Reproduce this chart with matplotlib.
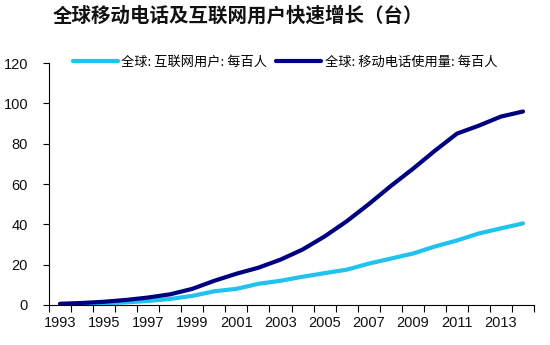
import matplotlib
matplotlib.use("Agg")
import matplotlib.pyplot as plt
import numpy as np

years = list(range(1993, 2015))
internet = [0.3, 0.4, 0.8, 1.3, 2.0, 3.0, 4.5, 6.8, 8.0, 10.5, 12.0, 14.0,
            15.8, 17.5, 20.5, 23.0, 25.5, 29.0, 32.0, 35.5, 38.0, 40.5]
mobile = [0.6, 1.0, 1.6, 2.5, 3.7, 5.3, 8.0, 12.0, 15.5, 18.5, 22.5, 27.5,
          34.0, 41.5, 50.0, 59.0, 67.5, 76.5, 85.0, 89.0, 93.5, 96.0]
series_names = ["全球: 互联网用户: 每百人", "全球: 移动电话使用量: 每百人"]
title = "全球移动电话及互联网用户快速增长（台）"
yticks = [0, 20, 40, 60, 80, 100, 120]

plt.rcParams['font.family'] = ['Liberation Sans', 'Noto Sans CJK SC', 'DejaVu Sans']

fig = plt.figure(figsize=(5.5, 3.45), dpi=100)
ax = fig.add_axes([0.089, 0.116, 0.882, 0.701])

x = np.arange(len(years))
l1, = ax.plot(x, internet, color='#1EC3F0', lw=3.0, solid_capstyle='round')
l2, = ax.plot(x, mobile, color='#000080', lw=3.0, solid_capstyle='round')

ax.set_xlim(-0.5, len(years) - 0.5)
ax.set_ylim(0, 120)
ax.set_yticks(yticks)
ax.set_yticklabels([str(v) for v in yticks], fontsize=10.5, color='#111111')

ax.set_xticks(np.arange(-0.5, len(years), 1.0))
ax.set_xticklabels([])
ax.set_xticks(x[::2], minor=True)
ax.set_xticklabels([str(y) for y in years[::2]], minor=True, fontsize=10.5, color='#111111')
ax.tick_params(axis='x', which='major', length=5, width=0.8, direction='out')
ax.tick_params(axis='x', which='minor', length=0, pad=8)
ax.tick_params(axis='y', length=4, width=0.8, direction='out', pad=11)

for s in ['top', 'right']:
    ax.spines[s].set_visible(False)
for s in ['left', 'bottom']:
    ax.spines[s].set_linewidth(0.8)

fig.text(0.433, 0.955, title, fontsize=14, fontweight='bold',
         family=['Noto Sans CJK SC'], ha='center', va='center', color='#111111')

leg = ax.legend([l1, l2], series_names, loc='upper left', bbox_to_anchor=(0.025, 1.08),
                ncol=2, frameon=False, prop={'family': ['Noto Sans CJK SC'], 'size': 9.5},
                handlelength=3.4, handletextpad=0.25, columnspacing=0.7)

fig.savefig("out.png", dpi=100)
